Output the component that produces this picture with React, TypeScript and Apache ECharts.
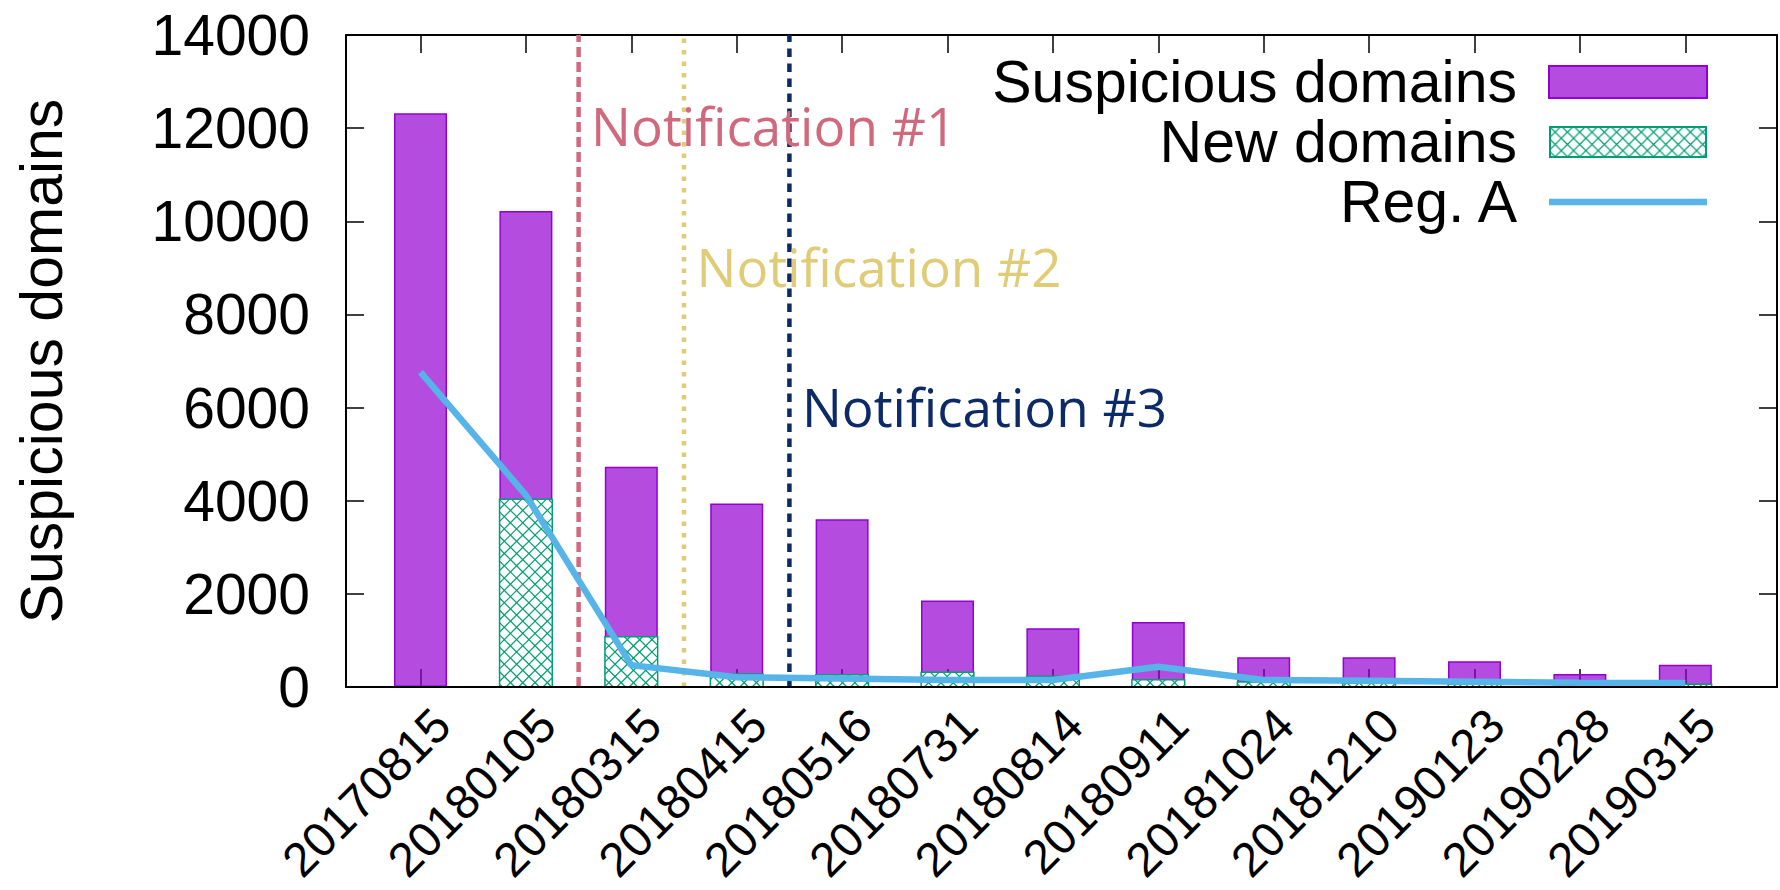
import React, { useEffect, useRef } from "react";
import * as echarts from "echarts";

// ---------- data ----------
const categories = [
  "20170815", "20180105", "20180315", "20180415", "20180516", "20180731", "20180814",
  "20180911", "20181024", "20181210", "20190123", "20190228", "20190315",
];
const suspiciousDomains = [12320, 10220, 4730, 3940, 3600, 1860, 1260, 1396, 637, 637, 551, 279, 479];
const newDomains = [0, 4030, 1080, 280, 265, 315, 229, 158, 107, 79, 60, 45, 58];
const regA = [6760, 4120, 470, 210, 185, 150, 150, 436, 150, 135, 114, 92, 86];

const notificationNames = ["Notification #1", "Notification #2", "Notification #3"];
const notificationX = [1.5, 2.5, 3.5];
const notificationLabelY = [12050, 9030, 6020];

const yTicks = [0, 2000, 4000, 6000, 8000, 10000, 12000, 14000];

// ---------- styles ----------
const X_MIN = -0.707;
const X_MAX = 12.87;
const LABEL_SHIFT = 0.203;
const FONT = "'Liberation Sans', Arial, Helvetica, sans-serif";
const NOTE_FONT = "'Open Sans', 'Noto Sans', sans-serif";
const notificationColors = ["#d1697d", "#e0cc76", "#0b2a67"];
const notificationDash = [[10, 5], [4.5, 7], [8.5, 6.5]];
const PURPLE_FILL = "rgba(148,0,211,0.7)";
const PURPLE_EDGE = "#9400d3";
const GREEN = "#009e73";
const BLUE = "#56b4e9";
const HATCH = 12.3;

const hatchSvg =
  "<svg xmlns='http://www.w3.org/2000/svg' width='158' height='32'>" +
  "<defs><pattern id='h' width='12.3' height='12.3' patternUnits='userSpaceOnUse'>" +
  "<path d='M0,0L12.3,12.3M12.3,0L0,12.3' stroke='" + GREEN + "' stroke-width='1.2' fill='none'/>" +
  "</pattern></defs>" +
  "<rect x='1' y='1' width='156' height='30' fill='url(#h)' stroke='" + GREEN + "' stroke-width='2'/></svg>";
const hatchIcon = "image://data:image/svg+xml;charset=utf-8," + encodeURIComponent(hatchSvg);

const lineSvg =
  "<svg xmlns='http://www.w3.org/2000/svg' width='158' height='32'>" +
  "<rect x='0' y='12.75' width='158' height='6.5' fill='" + BLUE + "'/></svg>";
const lineIcon = "image://data:image/svg+xml;charset=utf-8," + encodeURIComponent(lineSvg);

function hatchLine(x1: number, y1: number, x2: number, y2: number) {
  return { type: "line", shape: { x1, y1, x2, y2 }, style: { stroke: GREEN, lineWidth: 1.2 } };
}

function renderHatchBar(_params: any, api: any) {
  const xv = api.value(0);
  const yv = api.value(1);
  if (!yv) return { type: "group", children: [] };
  const p0 = api.coord([xv, 0]);
  const p1 = api.coord([xv, yv]);
  const w = api.size([1, 0])[0] * 0.5;
  const l = p0[0] - w / 2;
  const r = p0[0] + w / 2;
  const t = p1[1];
  const b = p0[1];
  const children: any[] = [
    { type: "rect", shape: { x: l, y: t, width: r - l, height: b - t }, style: { fill: "#fff" } },
  ];
  const s0 = Math.ceil((l + t) / HATCH) * HATCH;
  for (let s = s0; s <= r + b; s += HATCH) {
    const xa = Math.max(l, s - b);
    const xb = Math.min(r, s - t);
    if (xb > xa) children.push(hatchLine(xa, s - xa, xb, s - xb));
  }
  const d0 = Math.ceil((l - b) / HATCH) * HATCH;
  for (let d = d0; d <= r - t; d += HATCH) {
    const xa = Math.max(l, d + t);
    const xb = Math.min(r, d + b);
    if (xb > xa) children.push(hatchLine(xa, xa - d, xb, xb - d));
  }
  children.push({
    type: "rect",
    shape: { x: l, y: t, width: r - l, height: b - t },
    style: { fill: "none", stroke: GREEN, lineWidth: 1.5 },
  });
  return { type: "group", children };
}

const catIdx = categories.map((_, i) => i);

function buildOption(): any {
  const tickStyle = { color: "#000", width: 1.5 };
  const lineStyle = { color: "#000", width: 2 };
  const noteLines = notificationX.map((x, i) => ({
    type: "line",
    xAxisIndex: 0,
    yAxisIndex: 0,
    data: [[x, 0], [x, 14000]],
    symbol: "none",
    silent: true,
    z: 1,
    lineStyle: { color: notificationColors[i], width: 4.5, type: notificationDash[i] },
  }));
  const noteLabels = notificationX.map((x, i) => ({
    type: "scatter",
    xAxisIndex: 0,
    yAxisIndex: 0,
    data: [{ value: [x, notificationLabelY[i]], name: notificationNames[i] }],
    symbolSize: 1,
    itemStyle: { color: "rgba(0,0,0,0)", opacity: 1 },
    silent: true,
    z: 6,
    label: {
      show: true,
      position: "right",
      distance: 12,
      formatter: "{b}",
      color: notificationColors[i],
      opacity: 1,
      fontSize: 53,
      fontFamily: NOTE_FONT,
    },
  }));

  return {
    animation: false,
    backgroundColor: "#fff",
    textStyle: { fontFamily: FONT },
    grid: { left: 346, right: 3, top: 35, bottom: 203, containLabel: false, outerBoundsMode: "none" },
    legend: {
      orient: "vertical",
      align: "right",
      right: 72,
      top: 52,
      padding: 0,
      itemGap: 0,
      itemWidth: 158,
      itemHeight: 32,
      selectedMode: false,
      textStyle: {
        fontSize: 59,
        fontFamily: FONT,
        color: "#000",
        lineHeight: 60,
        padding: [0, 27, 0, 0],
      },
      data: [
        { name: "Suspicious domains", icon: "rect" },
        { name: "New domains", icon: hatchIcon },
        { name: "Reg. A", icon: lineIcon },
      ],
    },
    xAxis: [
      {
        type: "value",
        min: X_MIN,
        max: X_MAX,
        position: "bottom",
        axisLine: { show: false },
        axisTick: { show: true, inside: true, length: 18, lineStyle: tickStyle, customValues: catIdx },
        axisLabel: { show: false },
        splitLine: { show: false },
      },
      {
        type: "value",
        min: X_MIN - LABEL_SHIFT,
        max: X_MAX - LABEL_SHIFT,
        position: "bottom",
        z: 5,
        axisLine: { show: true, onZero: false, lineStyle },
        axisTick: { show: false },
        axisLabel: {
          show: true,
          rotate: 45,
          margin: 30,
          fontSize: 48,
          fontFamily: FONT,
          color: "#000",
          customValues: catIdx,
          formatter: (v: number) => categories[Math.round(v)] ?? "",
        },
        splitLine: { show: false },
      },
      {
        type: "value",
        min: X_MIN,
        max: X_MAX,
        position: "top",
        axisLine: { show: true, onZero: false, lineStyle },
        axisTick: { show: true, inside: true, length: 18, lineStyle: tickStyle, customValues: catIdx },
        axisLabel: { show: false },
        splitLine: { show: false },
      },
    ],
    yAxis: [
      {
        type: "value",
        min: 0,
        max: 14000,
        interval: 2000,
        position: "left",
        name: "Suspicious domains",
        nameLocation: "middle",
        nameGap: 275,
        nameTextStyle: { fontSize: 59, fontFamily: FONT, color: "#000" },
        axisLine: { show: true, onZero: false, lineStyle },
        axisTick: { show: true, inside: true, length: 18, lineStyle: tickStyle, customValues: yTicks },
        axisLabel: {
          show: true,
          margin: 36,
          fontSize: 57,
          fontFamily: FONT,
          color: "#000",
          formatter: (v: number) => String(v),
        },
        splitLine: { show: false },
      },
      {
        type: "value",
        min: 0,
        max: 14000,
        interval: 2000,
        position: "right",
        axisLine: { show: true, onZero: false, lineStyle },
        axisTick: { show: true, inside: true, length: 18, lineStyle: tickStyle },
        axisLabel: { show: false },
        splitLine: { show: false },
      },
    ],
    series: [
      ...noteLines,
      {
        name: "Suspicious domains",
        type: "bar",
        xAxisIndex: 0,
        yAxisIndex: 0,
        barWidth: 53,
        z: 2,
        data: suspiciousDomains.map((v, i) => [i, v]),
        itemStyle: { color: PURPLE_FILL, borderColor: PURPLE_EDGE, borderWidth: 1.5 },
      },
      {
        name: "New domains",
        type: "custom",
        xAxisIndex: 0,
        yAxisIndex: 0,
        z: 3,
        renderItem: renderHatchBar,
        encode: { x: 0, y: 1 },
        itemStyle: { color: GREEN },
        data: newDomains.map((v, i) => [i, v]),
      },
      {
        name: "Reg. A",
        type: "line",
        xAxisIndex: 0,
        yAxisIndex: 0,
        z: 4,
        symbol: "none",
        data: regA.map((v, i) => [i, v]),
        itemStyle: { color: BLUE },
        lineStyle: { color: BLUE, width: 6.5 },
      },
      ...noteLabels,
    ],
  };
}

export default function App() {
  const ref = useRef<HTMLDivElement>(null);
  useEffect(() => {
    if (!ref.current) return;
    const chart = echarts.init(ref.current, null, { renderer: "svg" });
    chart.setOption(buildOption());
    return () => chart.dispose();
  }, []);
  return (
    <div
      ref={ref}
      style={{ position: "fixed", left: 0, top: 0, width: 1780, height: 890, background: "#fff" }}
    />
  );
}
